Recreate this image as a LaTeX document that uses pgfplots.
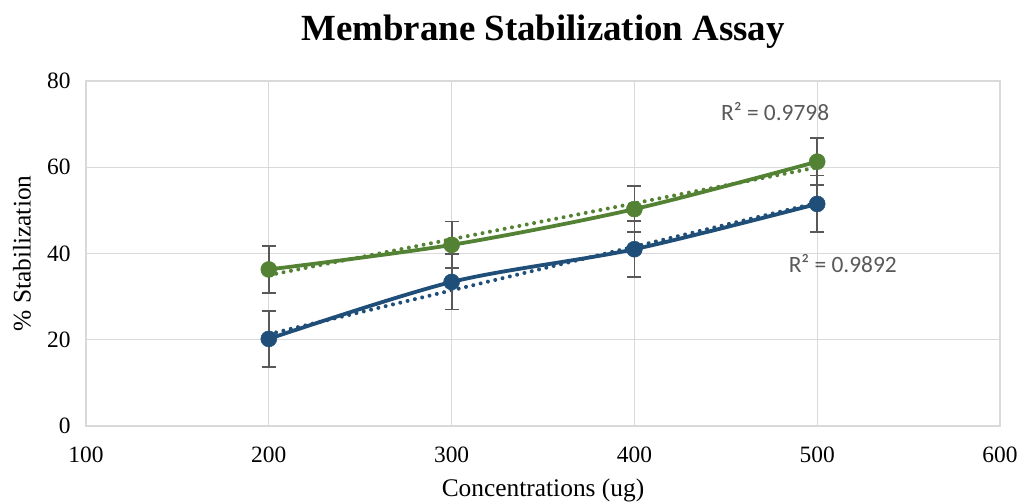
\documentclass[border=0pt]{standalone}
\usepackage{fontspec}
\setmainfont{Liberation Serif}
\newfontfamily\calibri{Carlito}
\usepackage{pgfplots}
\pgfplotsset{compat=1.18}
\definecolor{cblue}{HTML}{1F4E79}
\definecolor{cgreen}{HTML}{548235}
\definecolor{cgrid}{HTML}{D9D9D9}
\definecolor{cerr}{HTML}{595959}
\begin{document}
\begin{tikzpicture}
\useasboundingbox (-86bp,-78bp) rectangle (935bp,426bp);
\begin{axis}[
  at={(0,0)}, anchor=south west,
  scale only axis, width=914bp, height=345bp,
  xmin=100, xmax=600, ymin=0, ymax=80,
  xtick={100,200,...,600}, ytick={0,20,...,80},
  grid=major, major grid style={cgrid, line width=1.3bp},
  axis line style={cgrid, line width=1.3bp},
  tick style={draw=none},
  /pgf/number format/assume math mode=true,
  /pgf/number format/.cd, use comma, 1000 sep={},
  /pgfplots/.cd,
  ticklabel style={font=\fontsize{23.5}{27}\selectfont},
  yticklabel style={xshift=-12bp},
  xticklabel style={yshift=-17bp},
  xlabel={Concentrations (ug)}, ylabel={\% Stabilization},
  label style={font=\fontsize{25.5}{30}\selectfont},
  xlabel style={at={(axis description cs:0.5,0)}, anchor=center, yshift=-64bp},
  ylabel style={at={(axis description cs:0,0.5)}, anchor=center, rotate=0, yshift=64bp},
  title={Membrane Stabilization Assay},
  title style={font=\fontsize{37}{42}\selectfont\bfseries, at={(axis description cs:0.5,1)}, anchor=center, yshift=43bp},
  clip=false,
]
% trend lines (linear fits)
\addplot[cgreen, line width=4bp, line cap=round, dash pattern=on 0.01bp off 7.5bp] coordinates {(200,34.98) (500,59.97)};
\addplot[cblue, line width=4bp, line cap=round, dash pattern=on 0.01bp off 7.5bp] coordinates {(200,21.30) (500,51.75)};
% green series
\addplot[cgreen, line width=3.8bp, smooth, tension=0.5,
  mark=*, mark size=8bp, mark options={solid, fill=cgreen, draw=cgreen, line width=0.5bp},
  error bars/.cd, y dir=both, y explicit,
  error bar style={cerr, line width=1.8bp},
  error mark options={rotate=90, mark size=7bp, cerr, line width=1.8bp}]
  coordinates {
  (200,36.3) +- (0,5.4)
  (300,42.0) +- (0,5.4)
  (400,50.3) +- (0,5.4)
  (500,61.3) +- (0,5.4)
  };
% blue series
\addplot[cblue, line width=3.8bp, smooth, tension=0.5,
  mark=*, mark size=8bp, mark options={solid, fill=cblue, draw=cblue, line width=0.5bp},
  error bars/.cd, y dir=both, y explicit,
  error bar style={cerr, line width=1.8bp},
  error mark options={rotate=90, mark size=7bp, cerr, line width=1.8bp}]
  coordinates {
  (200,20.2) +- (0,6.5)
  (300,33.4) +- (0,6.4)
  (400,41.0) +- (0,6.5)
  (500,51.5) +- (0,6.6)
  };
\node[font=\calibri\fontsize{23.5}{27}\selectfont, text=cerr] at (axis cs:477,73.0) {R² = 0.9798};
\node[font=\calibri\fontsize{23.5}{27}\selectfont, text=cerr] at (axis cs:514,37.6) {R² = 0.9892};
\end{axis}
\end{tikzpicture}
\end{document}
